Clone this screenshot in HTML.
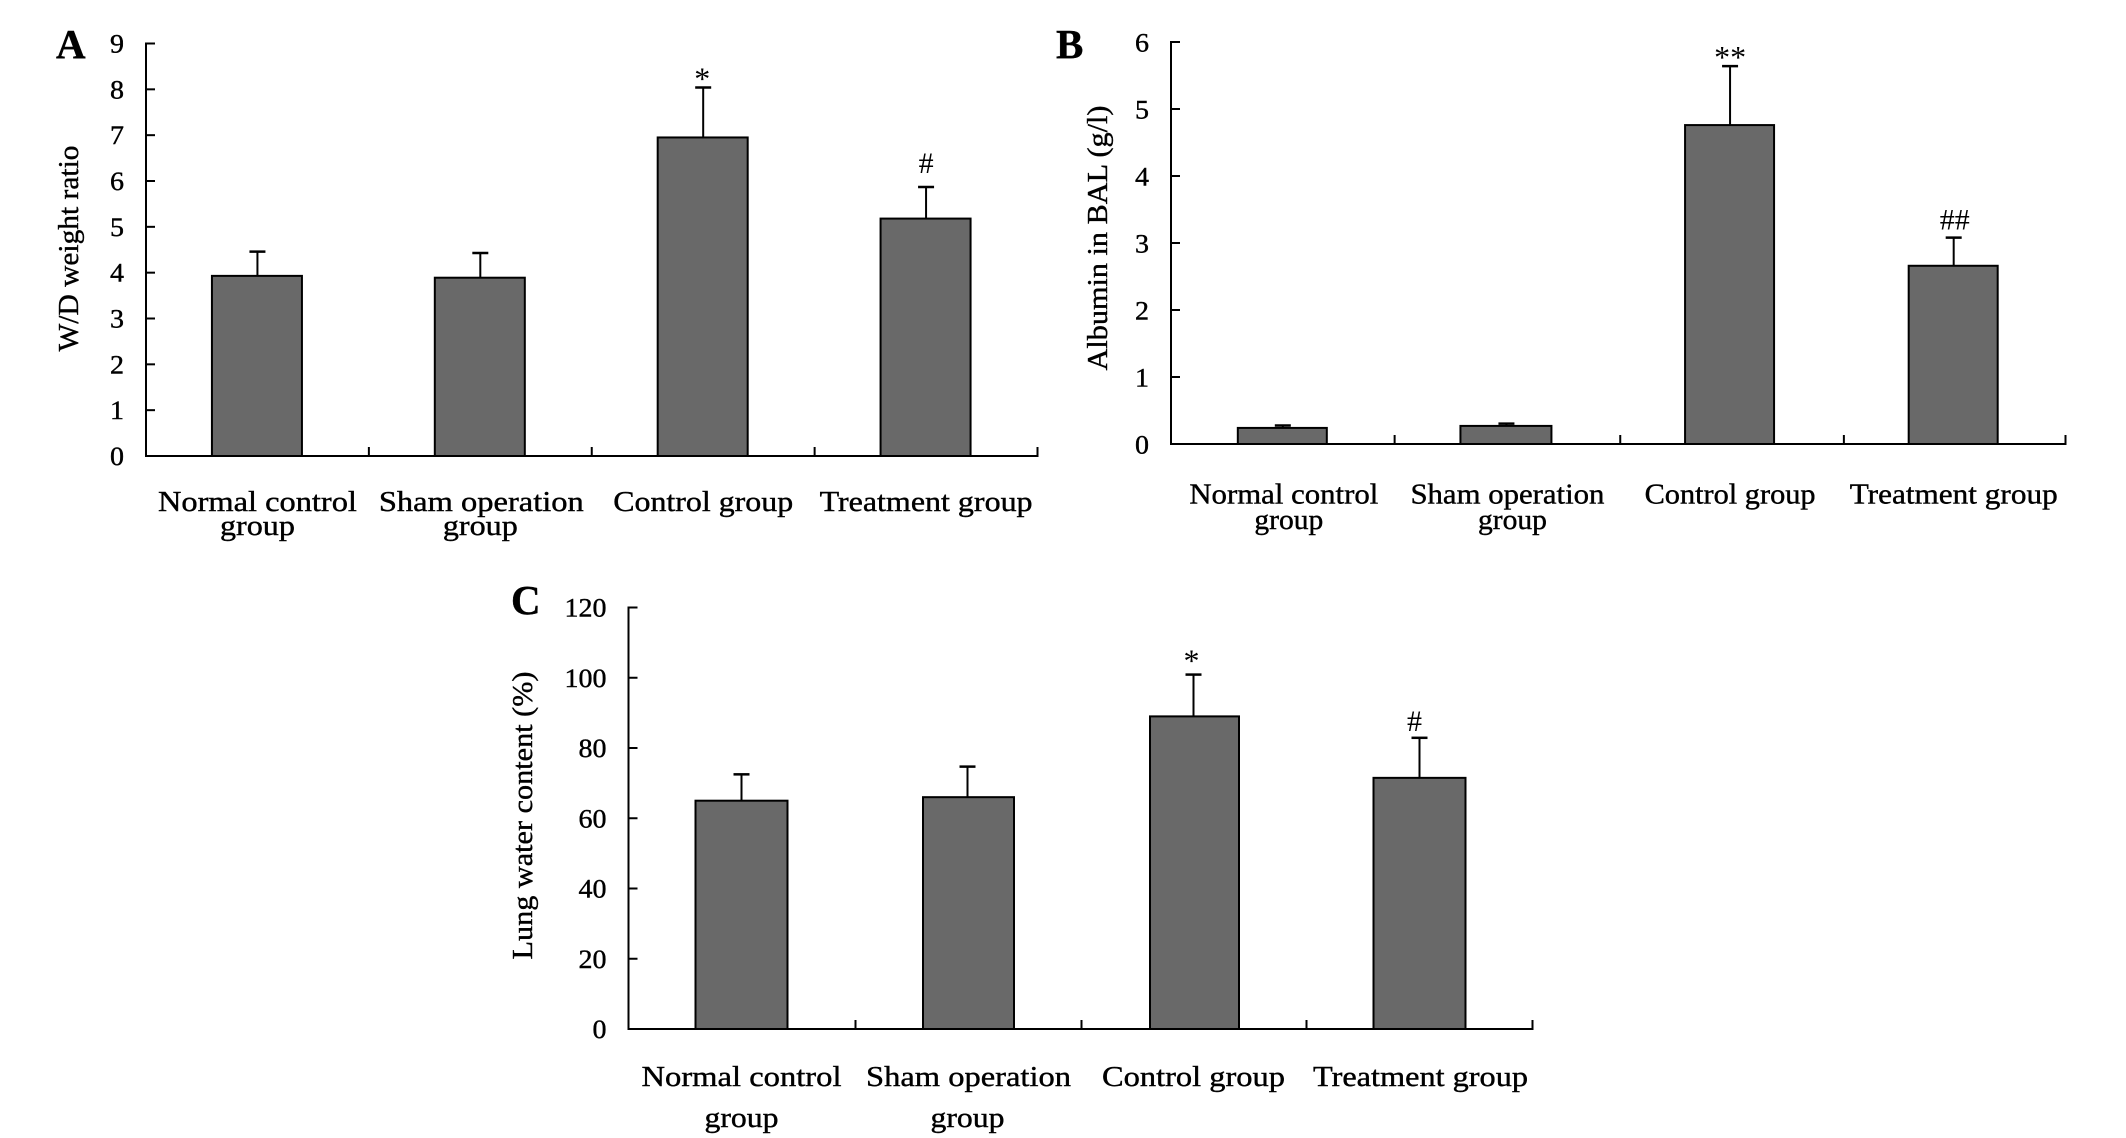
<!DOCTYPE html>
<html lang="en">
<head>
<meta charset="utf-8">
<title>Lung injury bar charts</title>
<style>
  html, body { margin: 0; padding: 0; background: #fff; }
  svg { display: block; }
  text { font-family: "Liberation Serif", serif; fill: #000; stroke: #000; stroke-width: 0.4px; }
</style>
</head>
<body>
<svg id="figure" xmlns="http://www.w3.org/2000/svg" width="2126" height="1138" viewBox="0 0 2126 1138"></svg>
<script>
const categoryLines = [["Normal control", "group"], ["Sham operation", "group"], ["Control group"], ["Treatment group"]];

const ticksA = [0, 1, 2, 3, 4, 5, 6, 7, 8, 9];
const valuesA = [3.93, 3.89, 6.95, 5.18];
const errorTopsA = [4.46, 4.43, 8.04, 5.87];
const marksA = ["", "", "*", "#"];

const ticksB = [0, 1, 2, 3, 4, 5, 6];
const valuesB = [0.24, 0.27, 4.76, 2.66];
const errorTopsB = [0.277, 0.304, 5.64, 3.08];
const marksB = ["", "", "**", "##"];

const ticksC = [0, 20, 40, 60, 80, 100, 120];
const valuesC = [65.0, 66.0, 89.0, 71.5];
const errorTopsC = [72.5, 74.7, 100.9, 82.9];
const marksC = ["", "", "*", "#"];

const svgNS = "http://www.w3.org/2000/svg";
const figure = document.getElementById("figure");

function mk(parent, tag, attrs, content) {
  const node = document.createElementNS(svgNS, tag);
  for (const key in attrs) node.setAttribute(key, attrs[key]);
  if (content !== undefined) node.textContent = content;
  parent.appendChild(node);
  return node;
}

function drawPanel(p) {
  const g = mk(figure, "g", {});
  
  

  const maxTick = p.ticks[p.ticks.length - 1];
  const yScale = v => p.y0 - (v / maxTick) * (p.y0 - p.yTop);
  const band = (p.xRight - p.x0) / p.values.length;
  const xCenter = i => p.x0 + band * (i + 0.5);

  const letter = mk(g, "text", { x: p.letterX, y: p.letterY, "font-size": 41, "font-weight": "bold" }, p.id);
  
  

  const title = mk(g, "text", {
    transform: "translate(" + p.titleX + "," + p.titleY + ") rotate(-90)",
    "text-anchor": "middle", "font-size": 29,
    textLength: p.titleLength, lengthAdjust: "spacingAndGlyphs"
  }, p.title);
  
  

  p.values.forEach((v, i) => {
    const cx = xCenter(i);
    const errTop = yScale(p.errorTops[i]);
    const top = yScale(v);
    const barX = cx + p.barDx[i];

    const stem = mk(g, "line", { x1: cx, x2: cx, y1: top, y2: errTop, stroke: "#000", "stroke-width": 2 });
    
    

    const cap = mk(g, "line", { x1: cx - 8, x2: cx + 8, y1: errTop, y2: errTop, stroke: "#000", "stroke-width": 2.5 });
    
    

    const bar = mk(g, "rect", { x: barX - p.barWidth[i] / 2, y: top, width: p.barWidth[i], height: p.y0 - top, fill: "#696969", stroke: "#000", "stroke-width": 2 });
    
    

    if (p.marks[i]) {
      const mark = p.marks[i];
      const isStar = mark[0] === "*";
      const mt = mk(g, "text", {
        x: cx + p.markDx[i], y: errTop - p.markGap[i] + (isStar ? 15 : 10),
        "text-anchor": "middle", "font-size": isStar ? 32 : 30, style: "stroke-width:0"
      }, mark);
      
      
    }

    p.labels[i].forEach((line, j) => {
      const isGroup = line === "group";
      const lab = mk(g, "text", {
        x: cx + (isGroup ? p.groupDx : p.labelDx[i]),
        y: j === 0 ? p.label1Y : p.label2Y,
        "text-anchor": "middle", "font-size": 29,
        textLength: isGroup ? p.groupWidth : p.labelWidths[i], lengthAdjust: "spacingAndGlyphs"
      }, line);
      
      
    });
  });

  const yAxis = mk(g, "line", { x1: p.x0, x2: p.x0, y1: p.yTop - 1, y2: p.y0, stroke: "#000", "stroke-width": 2 });
  
  

  const xAxis = mk(g, "line", { x1: p.x0 - 1, x2: p.xRight + 1, y1: p.y0, y2: p.y0, stroke: "#000", "stroke-width": 2 });
  
  

  p.ticks.forEach(t => {
    const y = yScale(t);
    if (t !== 0) {
      const tick = mk(g, "line", { x1: p.x0, x2: p.x0 + 9, y1: y, y2: y, stroke: "#000", "stroke-width": 2 });
      
      
    }
    const s = String(t);
    const label = mk(g, "text", {
      x: p.x0 - 22, y: y + 9 + p.tickLabelDy, "text-anchor": "end", "font-size": 26.5,
      textLength: s.length * 14, lengthAdjust: "spacingAndGlyphs"
    }, s);
    
    
  });

  for (let i = 1; i <= p.values.length; i++) {
    const x = p.x0 + band * i + p.xTickDx[i - 1];
    const xt = mk(g, "line", { x1: x, x2: x, y1: p.y0, y2: p.y0 - 9, stroke: "#000", "stroke-width": 2 });
    
    
  }
}

drawPanel({
  id: "A", title: "W/D weight ratio", ticks: ticksA, values: valuesA, errorTops: errorTopsA, marks: marksA, labels: categoryLines,
  x0: 146, xRight: 1037.5, y0: 456, yTop: 43.5, barWidth: [90, 90, 90, 90], barDx: [-0.5, -0.5, -0.5, -0.5],
  letterX: 56, letterY: 58, titleX: 78, titleY: 248.5, titleLength: 206, tickLabelDy: 0,
  label1Y: 511, label2Y: 535, labelWidths: [199, 205, 180, 213], labelDx: [0, 1, 0, 0], groupDx: 0, groupWidth: 75,
  markGap: [0, 0, 13, 24], markDx: [0, 0, -1, 0], xTickDx: [0, 0, 0, 0]
});

drawPanel({
  id: "B", title: "Albumin in BAL (g/l)", ticks: ticksB, values: valuesB, errorTops: errorTopsB, marks: marksB, labels: categoryLines,
  x0: 1171, xRight: 2065.5, y0: 444, yTop: 42, barWidth: [89, 91, 89, 89], barDx: [-0.5, -0.5, -0.5, -0.5],
  letterX: 1056, letterY: 58, titleX: 1107, titleY: 238, titleLength: 265, tickLabelDy: 0.5,
  label1Y: 503.5, label2Y: 529, labelWidths: [189, 194, 171, 208], labelDx: [1, 1, 0, 0], groupDx: 6, groupWidth: 69,
  markGap: [0, 0, 13, 18], markDx: [0, 0, 0, 1], xTickDx: [0, 2, 2, 0]
});

drawPanel({
  id: "C", title: "Lung water content (%)", ticks: ticksC, values: valuesC, errorTops: errorTopsC, marks: marksC, labels: categoryLines,
  x0: 628.5, xRight: 1532.5, y0: 1029, yTop: 607.5, barWidth: [92, 91, 89, 92], barDx: [0, 1, 1, 0],
  letterX: 511, letterY: 614, titleX: 532, titleY: 815.5, titleLength: 288, tickLabelDy: 0,
  label1Y: 1086, label2Y: 1127, labelWidths: [200, 205, 183, 215], labelDx: [0, 1, 0, 1], groupDx: 0, groupWidth: 74,
  markGap: [0, 0, 18, 17], markDx: [0, 0, -2, -5], xTickDx: [1, 1, 0, 0]
});
</script>
</body>
</html>
